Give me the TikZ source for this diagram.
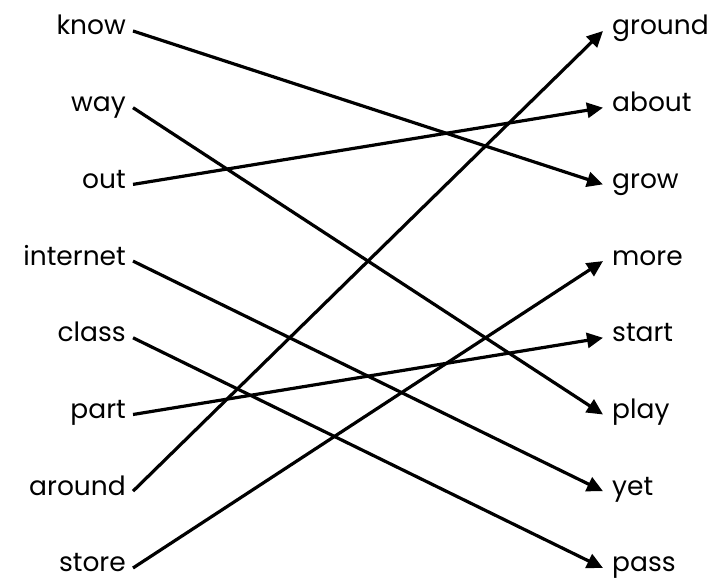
\documentclass[tikz,border=0pt]{standalone}
\usepackage{fontspec}
\setmainfont{Poppins}
\usetikzlibrary{arrows.meta}

\begin{document}
\begin{tikzpicture}[x=1pt,y=1pt,
        lword/.style = {anchor=base east, inner xsep=7pt, inner ysep=0pt, font=\fontsize{26.5}{32}\selectfont},
        rword/.style = {anchor=base west, inner xsep=9pt, inner ysep=0pt, font=\fontsize{26.5}{32}\selectfont},
        link/.style = {line width=3.2pt, -{Triangle[length=16pt,width=15pt]}}]

        \useasboundingbox (0,0) rectangle (713,585);

        % left column
        \node[lword] (know) at (133,550) {know};
        \node[lword] (way) at (133,473.3) {way};
        \node[lword] (out) at (133,396.6) {out};
        \node[lword] (internet) at (133,319.9) {internet};
        \node[lword] (class) at (133,243.2) {class};
        \node[lword] (part) at (133,166.5) {part};
        \node[lword] (around) at (133,89.8) {around};
        \node[lword] (store) at (133,13) {store};

        % right column
        \node[rword] (ground) at (603,550) {ground};
        \node[rword] (about) at (603,473.3) {about};
        \node[rword] (grow) at (603,396.6) {grow};
        \node[rword] (more) at (603,319.9) {more};
        \node[rword] (start) at (603,243.2) {start};
        \node[rword] (play) at (603,166.5) {play};
        \node[rword] (yet) at (603,89.8) {yet};
        \node[rword] (pass) at (603,13) {pass};

        \draw[link] ([yshift=4pt]know.base east) -- ([yshift=4pt]grow.base west);
        \draw[link] ([yshift=4pt]way.base east) -- ([yshift=4pt]play.base west);
        \draw[link] ([yshift=4pt]out.base east) -- ([yshift=4pt]about.base west);
        \draw[link] ([yshift=4pt]internet.base east) -- ([yshift=4pt]yet.base west);
        \draw[link] ([yshift=4pt]class.base east) -- ([yshift=4pt]pass.base west);
        \draw[link] ([yshift=4pt]part.base east) -- ([yshift=4pt]start.base west);
        \draw[link] ([yshift=4pt]around.base east) -- ([yshift=4pt]ground.base west);
        \draw[link] ([yshift=4pt]store.base east) -- ([yshift=4pt]more.base west);
\end{tikzpicture}
\end{document}
